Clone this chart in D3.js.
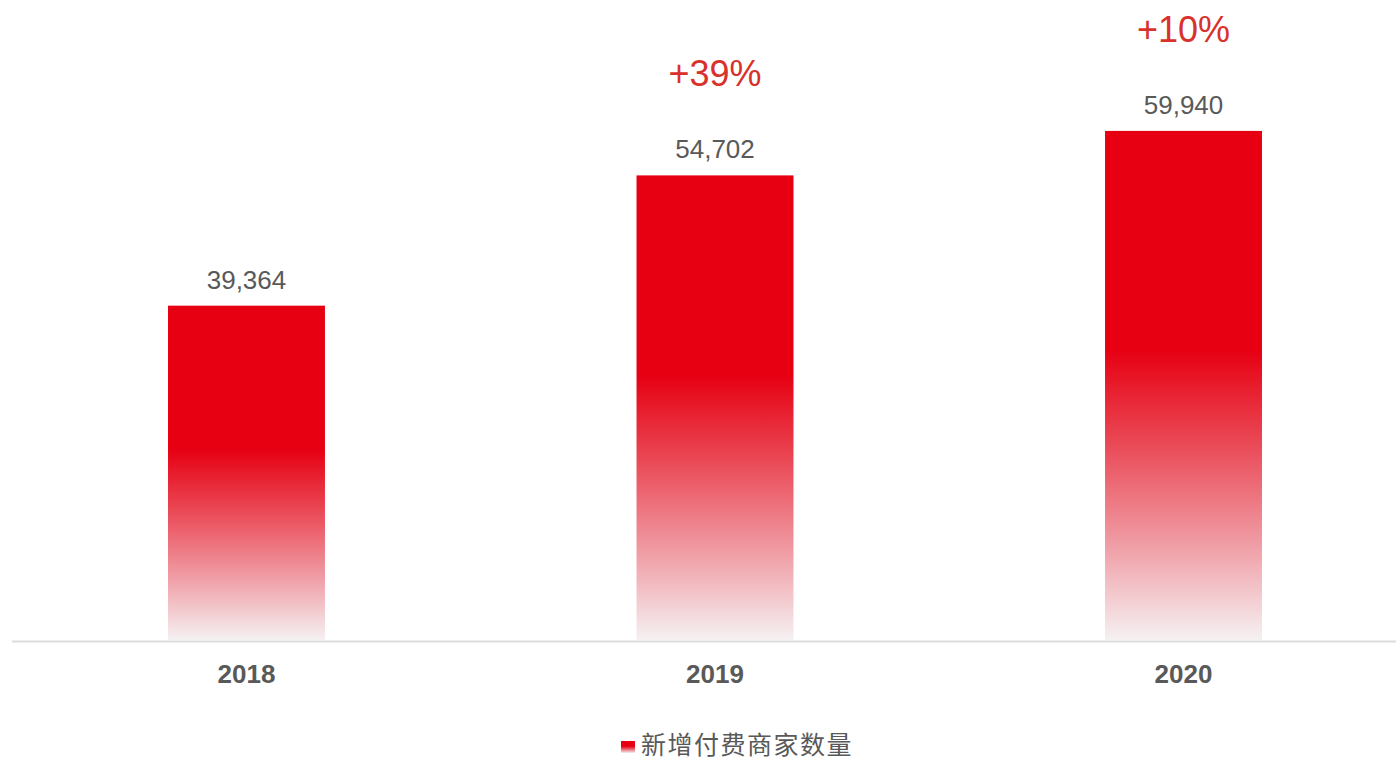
<!DOCTYPE html>
<html>
<head>
<meta charset="utf-8">
<script src="https://cdn.jsdelivr.net/npm/d3@7/dist/d3.min.js"></script>
<style>
  html, body { margin: 0; padding: 0; background: #fff; }
  svg { display: block; font-family: "Liberation Sans", Arial, sans-serif; }
</style>
</head>
<body>
<svg id="chart" width="1396" height="760"></svg>
<script>
const categories = ["2018", "2019", "2020"];
const values = [39364, 54702, 59940];
const growthLabels = ["", "+39%", "+10%"];
const seriesName = "新增付费商家数量";

const svg = d3.select("#chart");
const W = 1396, H = 760;
const baseY = 640;

const defs = svg.append("defs");
const grad = defs.append("linearGradient")
  .attr("id", "barGrad").attr("x1", 0).attr("y1", 0).attr("x2", 0).attr("y2", 1);
grad.append("stop").attr("offset", "0").attr("stop-color", "#e60012");
grad.append("stop").attr("offset", "0.43").attr("stop-color", "#e60012");
grad.append("stop").attr("offset", "0.62").attr("stop-color", "#ea4b58");
grad.append("stop").attr("offset", "0.82").attr("stop-color", "#f0a0a8");
grad.append("stop").attr("offset", "1").attr("stop-color", "#f5f1f2");

const x = d3.scaleBand().domain(categories).range([12, 1418])
  .paddingInner(0.665).paddingOuter(0.333);
const y = d3.scaleLinear().domain([0, 75000]).range([baseY, 3]);

const data = categories.map((c, i) => ({c, v: values[i], g: growthLabels[i]}));

svg.selectAll("rect.bar").data(data).enter().append("rect")
  .attr("class", "bar")
  .attr("x", d => x(d.c))
  .attr("y", d => y(d.v))
  .attr("width", x.bandwidth())
  .attr("height", d => baseY - y(d.v))
  .attr("fill", "url(#barGrad)");

// baseline
svg.append("line")
  .attr("x1", 12).attr("x2", W)
  .attr("y1", baseY + 1.5).attr("y2", baseY + 1.5)
  .attr("stroke", "#dcdcdc").attr("stroke-width", 2);

// x axis labels via axis
const xAxis = d3.axisBottom(x).tickSize(0).tickPadding(0);
const gx = svg.append("g").attr("transform", `translate(0,${baseY})`).call(xAxis);
gx.select(".domain").remove();
gx.selectAll("text")
  .attr("dy", null).attr("y", 43)
  .attr("font-size", 26).attr("font-weight", "bold")
  .attr("fill", "#595959")
  .attr("font-family", "'Liberation Sans', Arial, sans-serif");

// value labels
const fmt = d3.format(",");
svg.selectAll("text.val").data(data).enter().append("text")
  .attr("class", "val")
  .attr("x", d => x(d.c) + x.bandwidth() / 2)
  .attr("y", d => y(d.v) - 17)
  .attr("text-anchor", "middle")
  .attr("font-size", 26)
  .attr("fill", "#595959")
  .text(d => fmt(d.v));

// growth labels
svg.selectAll("text.growth").data(data.filter(d => d.g)).enter().append("text")
  .attr("class", "growth")
  .attr("x", d => x(d.c) + x.bandwidth() / 2)
  .attr("y", d => y(d.v) - 89)
  .attr("text-anchor", "middle")
  .attr("font-size", 36)
  .attr("fill", "#d9312b")
  .text(d => d.g);

// legend
const lg = svg.append("g").attr("transform", "translate(621,741)");
lg.append("rect").attr("width", 14).attr("height", 12).attr("fill", "url(#barGrad)");
lg.append("text")
  .attr("x", 20).attr("y", 13)
  .attr("font-size", 25)
  .attr("letter-spacing", 1.5)
  .attr("fill", "#595959")
  .attr("font-family", "'Noto Sans CJK SC', sans-serif")
  .text(seriesName);
</script>
</body>
</html>
